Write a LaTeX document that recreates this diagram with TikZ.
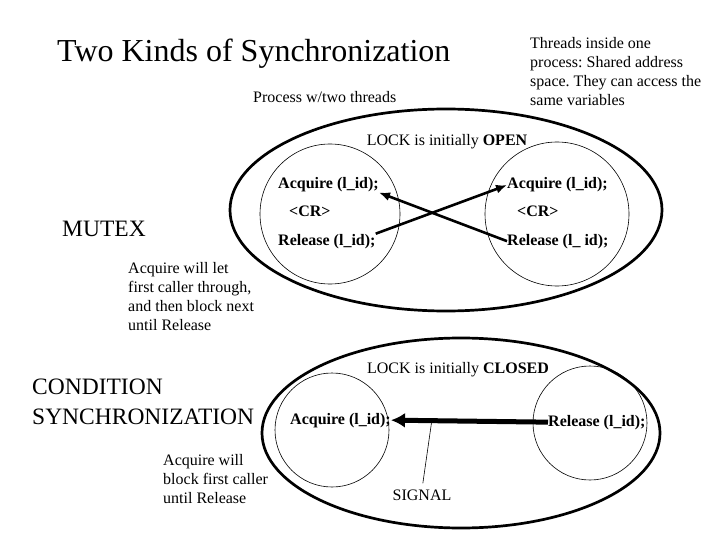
\documentclass[tikz,border=0pt]{standalone}
\usepackage{fontspec}
\setmainfont{Liberation Serif}
\usetikzlibrary{arrows.meta,positioning}
\frenchspacing

\begin{document}
\begin{tikzpicture}[x=1pt, y=-1pt,
  procring/.style={line width=2.7pt},
  threadring/.style={line width=0.6pt},
  codeline/.style={font=\fontsize{16}{19}\selectfont\bfseries, anchor=base west, inner sep=0pt},
  lockline/.style={font=\fontsize{16}{19}\selectfont, anchor=base, inner sep=0pt},
  note/.style={font=\fontsize{16}{19}\selectfont, align=left, anchor=north west, inner sep=0pt},
  heading/.style={font=\fontsize{23.5}{30}\selectfont, align=left, anchor=north west, inner sep=0pt},
  lockarrow/.style={line width=2.6pt, -{Latex[length=11pt,width=9pt]}},
  signalarrow/.style={line width=5pt, -{Latex[length=14pt,width=15pt]}}]

\useasboundingbox (0,0) rectangle (720,540);

% titles and side notes
\node[anchor=base west, inner sep=0pt, font=\fontsize{32}{38}\selectfont] (title) at (57,62)
  {Two Kinds of Synchronization};
\node[note] (shared) at (530,37)
  {Threads inside one\\process: Shared address\\space. They can access the\\same variables};
\node[lockline, anchor=base west] (proc) at (253,103) {Process w/two threads};
\node[heading] (mutex) at (62,221) {MUTEX};
\node[note] (mutexnote) at (128,262)
  {Acquire will let\\first caller through,\\and then block next\\until Release};
\node[heading] (cond) at (32,379) {CONDITION\\SYNCHRONIZATION};
\node[note] (condnote) at (163,454)
  {Acquire will\\block first caller\\until Release};

% mutex: one process, two threads
\draw[procring] (446,210) ellipse [x radius=216, y radius=101];
\draw[threadring] (330,214) circle [radius=70];
\draw[threadring] (557,214) circle [radius=72];
\node[lockline] (openlock) at (447,146) {LOCK is initially \textbf{OPEN}};

\node[codeline] (acqL) at (278,189) {Acquire (l\_id);};
\node[codeline] (crL) at (289,217) {<CR>};
\node[codeline] (relL) at (278,245) {Release (l\_id);};
\node[codeline] (acqR) at (507,189) {Acquire (l\_id);};
\node[codeline] (crR) at (517,217) {<CR>};
\node[codeline] (relR) at (507,245) {Release (l\_ id);};

\draw[lockarrow] (relL.north east) -- (acqR.west);
\draw[lockarrow] (relR.west) -- (acqL.south east);

% condition synchronization
\draw[procring] (461,433) ellipse [x radius=199, y radius=95];
\draw[threadring] (332,430) circle [radius=57];
\draw[threadring] (590,423) circle [radius=57];
\node[lockline] (closedlock) at (458,373) {LOCK is initially \textbf{CLOSED}};

\node[codeline] (acqB) at (290,424) {Acquire (l\_id);};
\node[codeline] (relB) at (548,426) {Release (l\_id);};
\node[lockline] (signal) at (422,500) {SIGNAL};

\draw[signalarrow] (relB.west) -- coordinate[pos=0.74] (sigtap) (acqB.east);
\draw[line width=0.6pt, shorten >=6pt] (sigtap) -- (signal.north);

\end{tikzpicture}
\end{document}
